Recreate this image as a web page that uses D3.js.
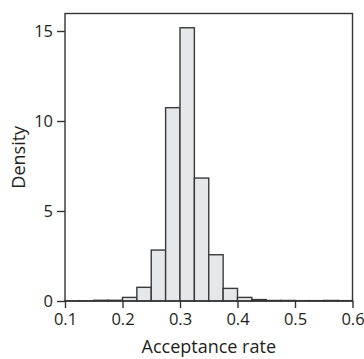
<!DOCTYPE html>
<html>
<head>
<meta charset="utf-8">
<script src="https://cdn.jsdelivr.net/npm/d3@7"></script>
<style>
  body { margin: 0; background: #fff; }
  text { font-family: "Open Sans", sans-serif; fill: #231f20; }
</style>
</head>
<body>
<div id="chart"></div>
<script>
// bin edges (left) and density heights, bin width 0.025
const binStarts = [0.1, 0.125, 0.15, 0.175, 0.2, 0.225, 0.25, 0.275, 0.3, 0.325,
                   0.35, 0.375, 0.4, 0.425, 0.45, 0.475, 0.5, 0.525, 0.55, 0.575];
const densities = [0.01, 0.01, 0.04, 0.04, 0.2, 0.76, 2.83, 10.74, 15.18, 6.83,
                   2.57, 0.7, 0.2, 0.08, 0.03, 0.03, 0.02, 0.02, 0.03, 0.02];
const binWidth = 0.025;
const xTicks = [0.1, 0.2, 0.3, 0.4, 0.5, 0.6];
const yTicks = [0, 5, 10, 15];

const width = 364, height = 359;
const margin = {top: 13.5, right: 11.5, bottom: 58, left: 65};

const svg = d3.select("#chart").append("svg")
    .attr("width", width)
    .attr("height", height);

const x = d3.scaleLinear().domain([0.1, 0.6]).range([margin.left, width - margin.right]);
const y = d3.scaleLinear().domain([0, 15]).range([height - margin.bottom, 31]);
const yTop = margin.top;

// bars
svg.append("g").selectAll("rect")
    .data(binStarts.map((s, i) => ({s, v: densities[i]})))
    .join("rect")
    .attr("x", d => x(d.s))
    .attr("y", d => y(d.v))
    .attr("width", d => x(d.s + binWidth) - x(d.s))
    .attr("height", d => y(0) - y(d.v))
    .attr("fill", "#e6e7e8")
    .attr("stroke", "#3a3a3a")
    .attr("stroke-width", 1.4);

// frame
svg.append("rect")
    .attr("x", x(0.1))
    .attr("y", yTop)
    .attr("width", x(0.6) - x(0.1))
    .attr("height", y(0) - yTop)
    .attr("fill", "none")
    .attr("stroke", "#333")
    .attr("stroke-width", 1.4);

// axes
const xAxis = svg.append("g")
    .attr("transform", `translate(0,${y(0)})`)
    .call(d3.axisBottom(x).tickValues(xTicks).tickFormat(d3.format(".1f")).tickSizeOuter(0).tickSize(7).tickPadding(5));
const yAxis = svg.append("g")
    .attr("transform", `translate(${x(0.1)},0)`)
    .call(d3.axisLeft(y).tickValues(yTicks).tickSizeOuter(0).tickSize(8).tickPadding(4));

[xAxis, yAxis].forEach(a => {
  a.select(".domain").remove();
  a.selectAll("line").attr("stroke", "#333").attr("stroke-width", 1.4);
  a.selectAll("text").style("font-size", "16.5px").attr("fill", "#231f20");
});

svg.append("text")
    .attr("x", (x(0.1) + x(0.6)) / 2)
    .attr("y", 353)
    .attr("text-anchor", "middle")
    .style("font-size", "18px")
    .text("Acceptance rate");

svg.append("text")
    .attr("transform", `translate(25,${(yTop + y(0)) / 2}) rotate(-90)`)
    .attr("text-anchor", "middle")
    .style("font-size", "18px")
    .text("Density");
</script>
</body>
</html>
